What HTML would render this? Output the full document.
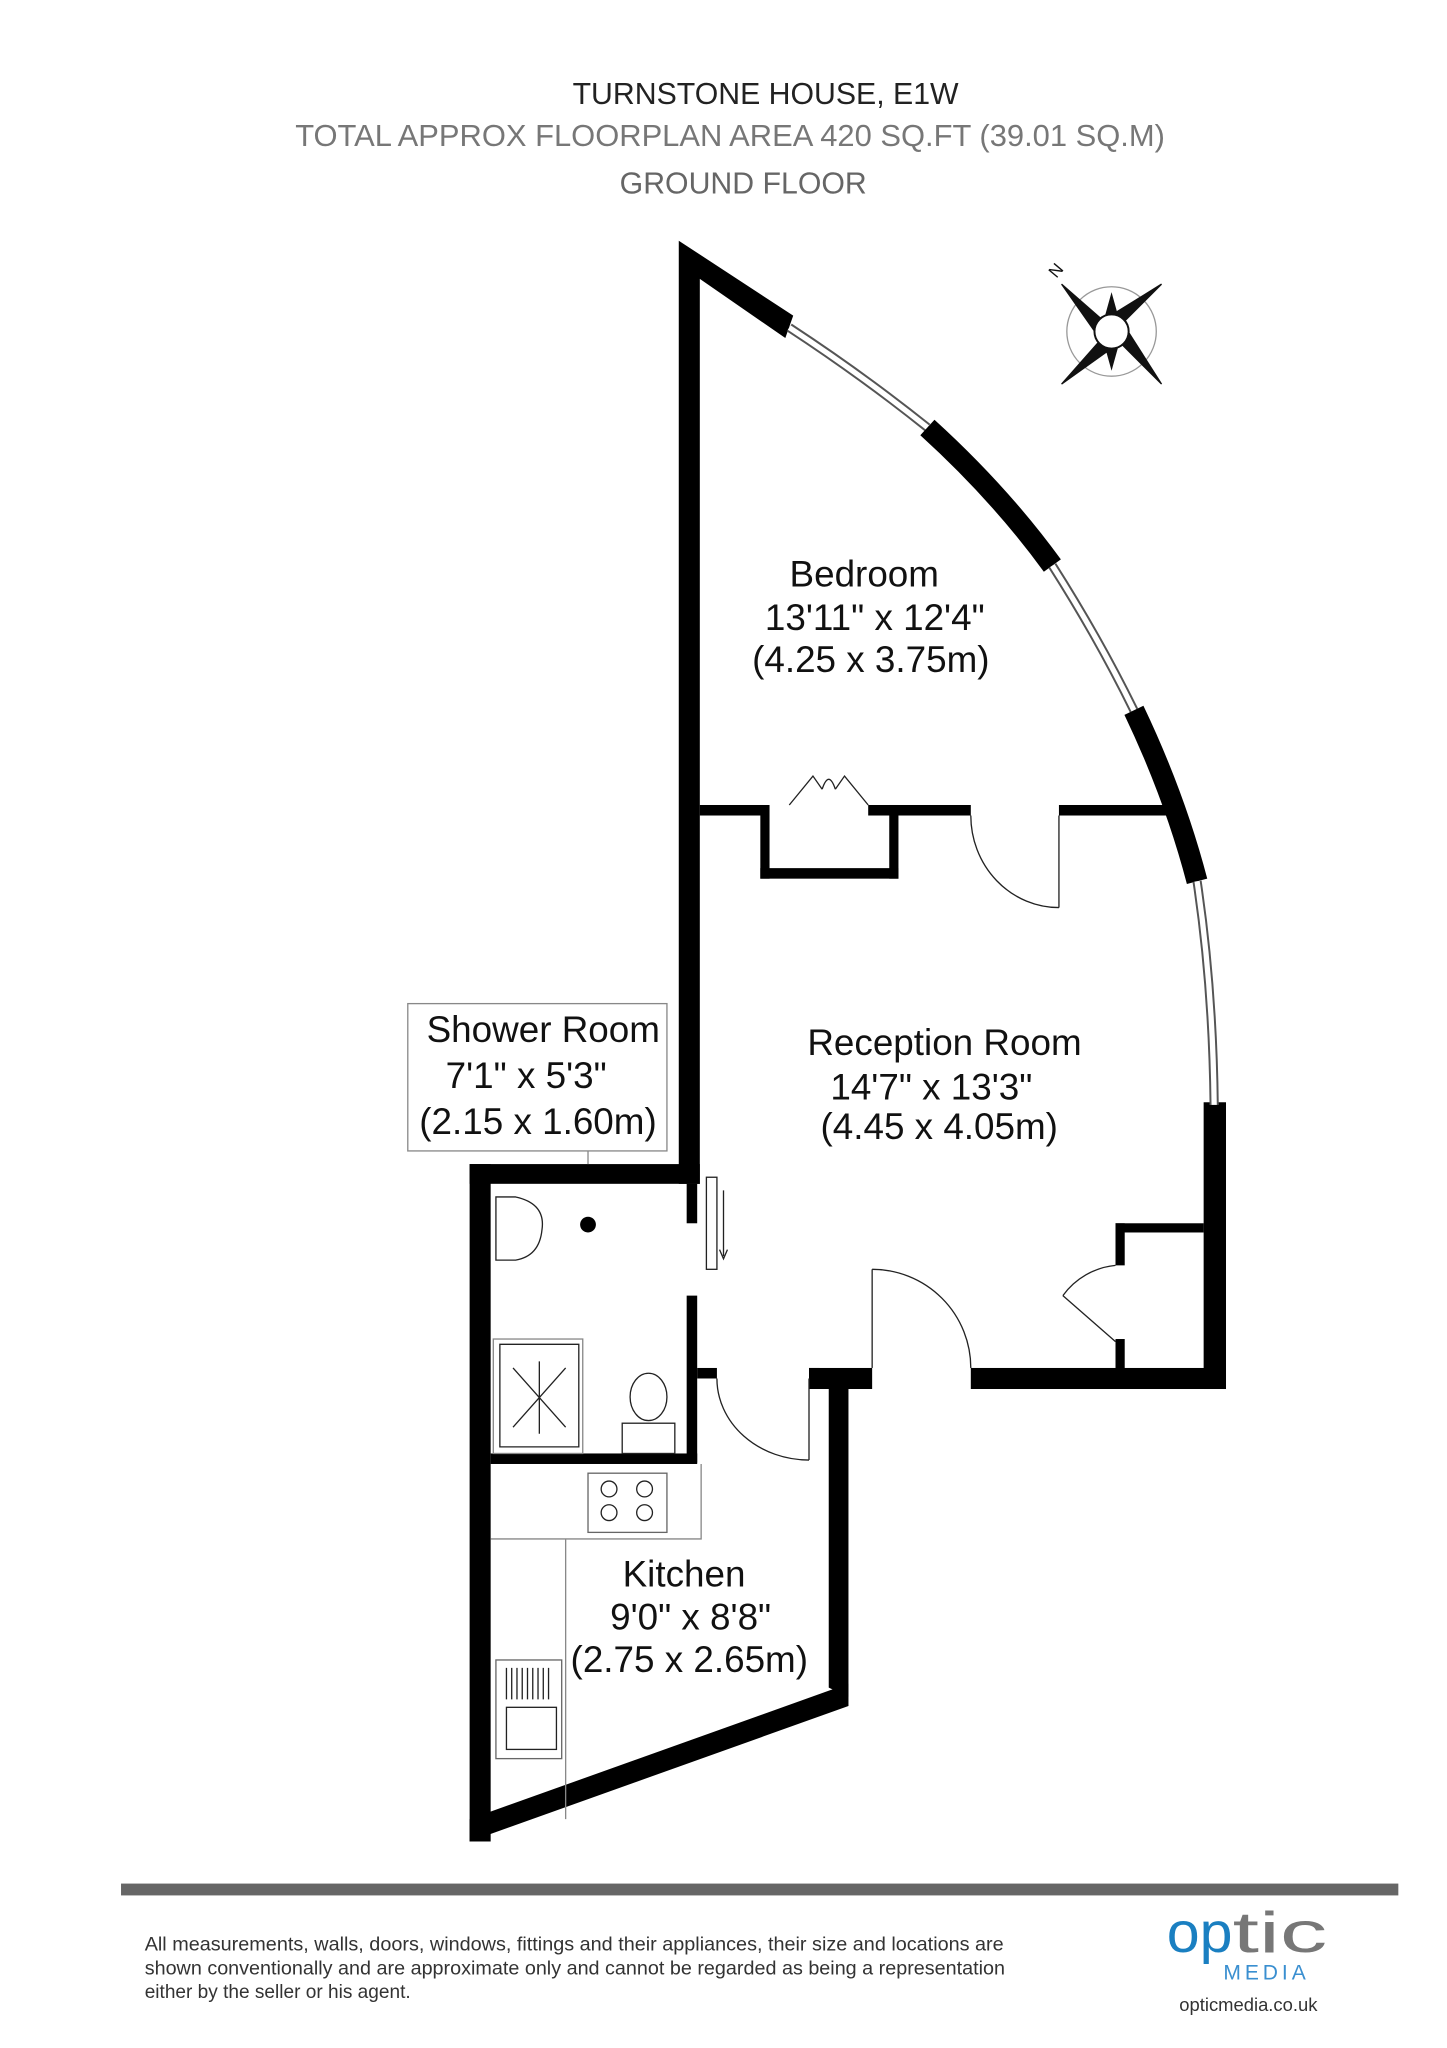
<!DOCTYPE html>
<html><head><meta charset="utf-8"><style>
html,body{margin:0;padding:0;background:#fff;}
svg{display:block;}
text{font-family:"Liberation Sans",sans-serif;}
</style></head><body>
<svg width="1447" height="2048" viewBox="0 0 1100 1557" preserveAspectRatio="none" xmlns="http://www.w3.org/2000/svg">
<rect width="1100" height="1557" fill="#fff"/>
<g text-anchor="middle">
<text x="582" y="79" fill="#222" font-size="23">TURNSTONE HOUSE, E1W</text>
<text x="555" y="111" fill="#777" font-size="23.5">TOTAL APPROX FLOORPLAN AREA 420 SQ.FT (39.01 SQ.M)</text>
<text x="565" y="147" fill="#666" font-size="23">GROUND FLOOR</text>
</g>
<!-- compass -->
<g transform="translate(845,252)" stroke="#111" fill="#111">
<circle r="34" fill="none" stroke="#999" stroke-width="1"/>
<polygon points="-38,-36 -6,-8 -10,4"/>
<polygon points="38,-36 8,-6 -4,-10"/>
<polygon points="38,40 6,8 10,-4"/>
<polygon points="-38,40 -8,6 4,10"/>
<polygon points="0,-28 5,-10 -5,-10"/>
<polygon points="0,28 5,10 -5,10"/>
<circle r="13" fill="#fff" stroke="#111" stroke-width="1.5"/>
<text x="-42" y="-40" font-size="13" transform="rotate(-50 -42 -40)" stroke="none">N</text>
</g>
<!-- walls -->
<g fill="#000">
<polygon points="516,183 603,240 597,257 532,212 532,900 516,900"/>
<rect x="532" y="612" width="48" height="8"/>
<rect x="578" y="612" width="7" height="56"/>
<rect x="578" y="660" width="105" height="8"/>
<rect x="676" y="612" width="7" height="56"/>
<rect x="660" y="612" width="78" height="8"/>
<rect x="805" y="612" width="85" height="8"/>
<rect x="915" y="838" width="17" height="218"/>
<rect x="738" y="1040" width="194" height="16"/>
<rect x="848" y="930" width="67" height="7"/>
<rect x="848" y="930" width="7" height="32"/>
<rect x="848" y="1018" width="7" height="25"/>
<rect x="357" y="885" width="175" height="15"/>
<rect x="357" y="885" width="16" height="515"/>
<rect x="522" y="900" width="8" height="30"/>
<rect x="522" y="985" width="8" height="127"/>
<rect x="373" y="1105" width="157" height="8"/>
<rect x="530" y="1040" width="15" height="8"/>
<rect x="615" y="1040" width="48" height="16"/>
<rect x="615" y="1040" width="8" height="12"/>
<polygon points="630,1048 645,1048 645,1290 630,1283"/>
<polygon points="645,1280 645,1297 357,1400 357,1383"/>
</g>
<!-- curved wall -->
<g fill="none">
<path d="M600,249 Q655,285 705,325" stroke="#555" stroke-width="7"/>
<path d="M600,249 Q655,285 705,325" stroke="#fff" stroke-width="4"/>
<path d="M705,325 Q760,375 800,430" stroke="#000" stroke-width="16"/>
<path d="M800,430 Q835,485 862,540" stroke="#555" stroke-width="7"/>
<path d="M800,430 Q835,485 862,540" stroke="#fff" stroke-width="4"/>
<path d="M862,540 Q893,605 910,670" stroke="#000" stroke-width="16"/>
<path d="M910,670 Q922,750 923,840" stroke="#555" stroke-width="7"/>
<path d="M910,670 Q922,750 923,840" stroke="#fff" stroke-width="4"/>
</g>
<!-- doors -->
<g fill="none" stroke="#222" stroke-width="1">
<path d="M738,620 A67,70 0 0 0 805,690"/><line x1="805" y1="620" x2="805" y2="690"/>
<path d="M663,965 A75,75 0 0 1 738,1040"/><line x1="663" y1="965" x2="663" y2="1040"/>
<path d="M545,1048 A70,62 0 0 0 615,1110"/><line x1="615" y1="1048" x2="615" y2="1110"/>
<path d="M848,962 A56,56 0 0 0 808,985"/><line x1="808" y1="985" x2="848" y2="1020"/>
<path d="M600,612 L618,590 L625,600 M660,612 L642,590 L635,600 M625,600 Q630,585 635,600"/>
<rect x="537" y="895" width="8" height="70"/>
<path d="M550,905 V955 M547,950 L550,957 L553,950"/>
<rect x="310" y="763" width="197" height="112" stroke="#888"/>
<line x1="447" y1="875" x2="447" y2="885" stroke="#888"/>
<path d="M373,1170 H430 V1383 M430,1170 H533 V1113" stroke="#888"/>
<rect x="447" y="1120" width="60" height="45" stroke="#666"/>
<circle cx="463" cy="1132" r="6"/><circle cx="490" cy="1132" r="6"/>
<circle cx="463" cy="1150" r="6"/><circle cx="490" cy="1150" r="6"/>
<rect x="377" y="1262" width="50" height="75" stroke="#666"/>
<path d="M385,1268 V1292 M389,1268 V1292 M393,1268 V1292 M397,1268 V1292 M401,1268 V1292 M405,1268 V1292 M409,1268 V1292 M413,1268 V1292 M417,1268 V1292"/>
<rect x="385" y="1298" width="38" height="32"/>
<rect x="375" y="1018" width="68" height="87" stroke="#888"/>
<path d="M380,1022 H440 V1100 H380 Z M390,1040 L430,1085 M430,1040 L390,1085 M410,1035 V1090"/>
<ellipse cx="493" cy="1062" rx="14" ry="18"/>
<rect x="473" y="1082" width="40" height="23"/>
<path d="M377,910 H392 Q415,915 412,935 Q410,955 392,958 H377 Z"/>
</g>
<circle cx="447" cy="931" r="6" fill="#000"/>
<!-- labels -->
<g font-size="28" fill="#111" text-anchor="middle">
<text x="657" y="446">Bedroom</text>
<text x="665" y="479">13'11" x 12'4"</text>
<text x="662" y="511">(4.25 x 3.75m)</text>
<text x="718" y="802">Reception Room</text>
<text x="708" y="836">14'7" x 13'3"</text>
<text x="714" y="866">(4.45 x 4.05m)</text>
<text x="413" y="792">Shower Room</text>
<text x="400" y="827">7'1" x 5'3"</text>
<text x="409" y="862">(2.15 x 1.60m)</text>
<text x="520" y="1206">Kitchen</text>
<text x="525" y="1239">9'0" x 8'8"</text>
<text x="524" y="1271">(2.75 x 2.65m)</text>
</g>
<rect x="92" y="1432" width="971" height="9" fill="#666"/>
<g font-size="14.5" fill="#333">
<text x="110" y="1483" textLength="653" lengthAdjust="spacingAndGlyphs">All measurements, walls, doors, windows, fittings and their appliances, their size and locations are</text>
<text x="110" y="1501" textLength="654" lengthAdjust="spacingAndGlyphs">shown conventionally and are approximate only and cannot be regarded as being a representation</text>
<text x="110" y="1519">either by the seller or his agent.</text>
</g>
<text x="887" y="1484" font-size="44" fill="#1a7fc1" textLength="50" lengthAdjust="spacingAndGlyphs">op</text>
<text x="937" y="1484" font-size="44" fill="#777" textLength="72" lengthAdjust="spacingAndGlyphs">tic</text>
<text x="930" y="1505" font-size="16" fill="#3a8fd0" letter-spacing="3">MEDIA</text>
<text x="949" y="1529" font-size="14" fill="#333" text-anchor="middle">opticmedia.co.uk</text>
</svg>
</body></html>
